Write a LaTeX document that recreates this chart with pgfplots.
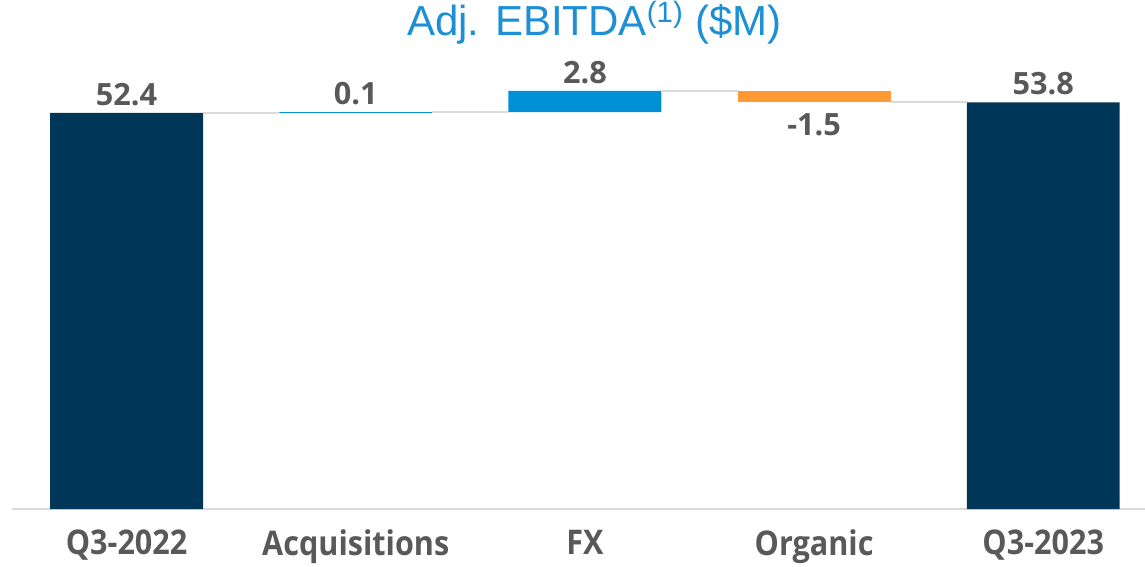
\documentclass[border=0pt]{standalone}
\usepackage{fontspec}
\setmainfont{Open Sans}
\newfontfamily\titlefont{Liberation Sans}
\newfontfamily\tickfont[FakeStretch=0.9]{Open Sans}
\usepackage{pgfplots}
\pgfplotsset{compat=1.18}
\definecolor{navy}{HTML}{003658}
\definecolor{fxblue}{HTML}{0090D6}
\definecolor{orng}{HTML}{FF9933}
\definecolor{lblgray}{HTML}{595959}
\definecolor{conn}{HTML}{DADADA}
\definecolor{titleblue}{HTML}{1C8FD5}
\pgfplotsset{common/.style={
  scale only axis, width=849.75pt, height=340.2pt,
  xmin=-0.5, xmax=4.444, ymin=0, ymax=60, clip=false}}
\begin{document}
\begin{tikzpicture}
\begin{axis}[common,
  ybar stacked, bar width=0.667,
  axis x line=bottom, hide y axis,
  x axis line style={conn, line width=1.5pt, -},
  xtick={0,1,2,3,4},
  xticklabels={Q3-2022,Acquisitions,FX,Organic,Q3-2023},
  major tick length=0pt,
  xticklabel style={font=\tickfont\fontsize{25.5}{30}\selectfont\bfseries, text=lblgray, anchor=north, inner sep=0pt, yshift=-15.5pt},
]
\addplot[draw=none, fill=none] coordinates {(0,0) (1,52.4) (2,52.5) (3,53.8) (4,0)};
\addplot[draw=none, fill=navy] coordinates {(0,52.4) (1,0) (2,0) (3,0) (4,53.8)};
\addplot[draw=none, fill=fxblue] coordinates {(0,0) (1,0.1) (2,2.8) (3,0) (4,0)};
\addplot[draw=none, fill=orng] coordinates {(0,0) (1,0) (2,0) (3,1.5) (4,0)};
\end{axis}
\begin{axis}[common, axis lines=none,
  title={\titlefont Adj. EBITDA\textsuperscript{(1)} (\$M)},
  title style={at={(axis description cs:0.514,1)}, anchor=base, yshift=9.3pt,
    font=\fontsize{31.5}{36}\selectfont, text=titleblue},
]
\addplot[conn, line width=1.8pt] coordinates {(0.3335,52.4) (0.6665,52.4)};
\addplot[conn, line width=1.8pt] coordinates {(1.3335,52.5) (1.6665,52.5)};
\addplot[conn, line width=1.8pt] coordinates {(2.3335,55.3) (2.6665,55.3)};
\addplot[conn, line width=1.8pt] coordinates {(3.3335,53.8) (3.6665,53.8)};
\addplot[only marks, mark=none, nodes near coords, point meta=explicit symbolic,
  nodes near coords style={anchor=south, inner sep=0pt, yshift=5pt, text=lblgray,
    font=\fontsize{23}{28}\selectfont\bfseries}]
  coordinates {(0,52.4)[52.4] (1,52.5)[0.1] (2,55.3)[2.8] (4,53.8)[53.8]};
\addplot[only marks, mark=none, nodes near coords, point meta=explicit symbolic,
  nodes near coords style={anchor=north, inner sep=0pt, yshift=-8pt, text=lblgray,
    font=\fontsize{23}{28}\selectfont\bfseries}]
  coordinates {(3,53.8)[-1.5]};
\end{axis}
\pgfresetboundingbox
\path (-9pt,-43.5pt) rectangle (849.75pt,381.75pt);
\end{tikzpicture}
\end{document}
